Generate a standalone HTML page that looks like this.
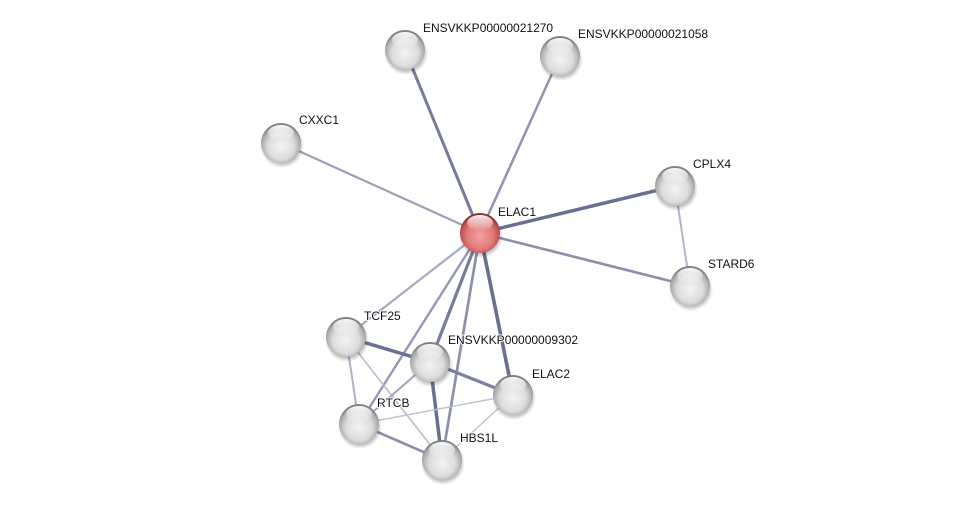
<!DOCTYPE html>
<html><head><meta charset="utf-8"><style>
html,body{margin:0;padding:0;background:#fff;}
svg{display:block;}
text{font-family:"Liberation Sans",Arial,sans-serif;font-size:12px;fill:#111;paint-order:stroke;stroke:#fff;stroke-width:2px;stroke-linejoin:round;}
</style></head><body>
<svg width="975" height="505" viewBox="0 0 975 505" xmlns="http://www.w3.org/2000/svg">
<defs>
<radialGradient id="g" cx="50%" cy="58%" r="55%">
<stop offset="0" stop-color="#f4f4f4"/>
<stop offset="0.6" stop-color="#dcdcdc"/>
<stop offset="0.88" stop-color="#ababab"/>
<stop offset="1" stop-color="#7d7d7d"/>
</radialGradient>
<radialGradient id="r" cx="50%" cy="58%" r="55%">
<stop offset="0" stop-color="#f4a0a0"/>
<stop offset="0.6" stop-color="#e07a7a"/>
<stop offset="0.88" stop-color="#c05050"/>
<stop offset="1" stop-color="#8a2c2c"/>
</radialGradient>
<linearGradient id="h" x1="0" y1="0" x2="0" y2="1">
<stop offset="0" stop-color="#fff" stop-opacity="0.95"/>
<stop offset="1" stop-color="#fff" stop-opacity="0"/>
</linearGradient>
<radialGradient id="sh" cx="50%" cy="50%" r="50%">
<stop offset="0.7" stop-color="#000" stop-opacity="0.35"/>
<stop offset="1" stop-color="#000" stop-opacity="0"/>
</radialGradient>
<g id="n">
<circle cx="1" cy="3" r="22" fill="url(#sh)"/>
<circle cx="0" cy="0" r="20" fill="url(#g)"/>
<ellipse cx="0" cy="-10" rx="13" ry="8" fill="url(#h)"/>
</g>
<g id="nr">
<circle cx="1" cy="3" r="22" fill="url(#sh)"/>
<circle cx="0" cy="0" r="20" fill="url(#r)"/>
<ellipse cx="0" cy="-10" rx="13" ry="8" fill="url(#h)"/>
</g>
</defs>
<g stroke-linecap="butt">
<line x1="480" y1="233" x2="405" y2="50" stroke="#767c9a" stroke-width="3"/>
<line x1="480" y1="233" x2="560" y2="56" stroke="#8f95b0" stroke-width="2.5"/>
<line x1="480" y1="233" x2="281" y2="143" stroke="#9a9fb8" stroke-width="2.2"/>
<line x1="480" y1="233" x2="675" y2="186" stroke="#6a7090" stroke-width="3.5"/>
<line x1="480" y1="233" x2="690" y2="286" stroke="#8a90ab" stroke-width="2.6"/>
<line x1="480" y1="233" x2="346" y2="337" stroke="#a5aac0" stroke-width="2.2"/>
<line x1="480" y1="233" x2="430" y2="362" stroke="#767c9a" stroke-width="3.2"/>
<line x1="480" y1="233" x2="513" y2="395" stroke="#6a7090" stroke-width="3.6"/>
<line x1="480" y1="233" x2="359" y2="424" stroke="#959ab4" stroke-width="2.4"/>
<line x1="480" y1="233" x2="442" y2="460" stroke="#8a90ab" stroke-width="2.7"/>
<line x1="675" y1="186" x2="690" y2="286" stroke="#b0b4c8" stroke-width="2"/>
<line x1="346" y1="337" x2="430" y2="362" stroke="#6a7090" stroke-width="3.5"/>
<line x1="430" y1="362" x2="513" y2="395" stroke="#7a809e" stroke-width="3.2"/>
<line x1="346" y1="337" x2="359" y2="424" stroke="#aeb2c6" stroke-width="2"/>
<line x1="346" y1="337" x2="442" y2="460" stroke="#b8bccc" stroke-width="1.6"/>
<line x1="430" y1="362" x2="359" y2="424" stroke="#a0a5bc" stroke-width="2"/>
<line x1="430" y1="362" x2="442" y2="460" stroke="#6a7090" stroke-width="3.5"/>
<line x1="359" y1="424" x2="513" y2="395" stroke="#bfc2d2" stroke-width="1.5"/>
<line x1="359" y1="424" x2="442" y2="460" stroke="#8a90ab" stroke-width="2.6"/>
<line x1="442" y1="460" x2="513" y2="395" stroke="#c0c3d2" stroke-width="1.5"/>
</g>
<use href="#n" x="405" y="50"/>
<use href="#n" x="560" y="56"/>
<use href="#n" x="281" y="143"/>
<use href="#n" x="675" y="186"/>
<use href="#n" x="690" y="286"/>
<use href="#n" x="346" y="337"/>
<use href="#n" x="430" y="362"/>
<use href="#n" x="513" y="395"/>
<use href="#n" x="359" y="424"/>
<use href="#n" x="442" y="460"/>
<use href="#nr" x="480" y="233"/>
<text x="423" y="32">ENSVKKP00000021270</text>
<text x="578" y="38">ENSVKKP00000021058</text>
<text x="299" y="124">CXXC1</text>
<text x="693" y="168">CPLX4</text>
<text x="498" y="216">ELAC1</text>
<text x="708" y="268">STARD6</text>
<text x="364" y="320">TCF25</text>
<text x="448" y="344">ENSVKKP00000009302</text>
<text x="532" y="378">ELAC2</text>
<text x="377" y="407">RTCB</text>
<text x="460" y="442">HBS1L</text>
</svg>
</body></html>
